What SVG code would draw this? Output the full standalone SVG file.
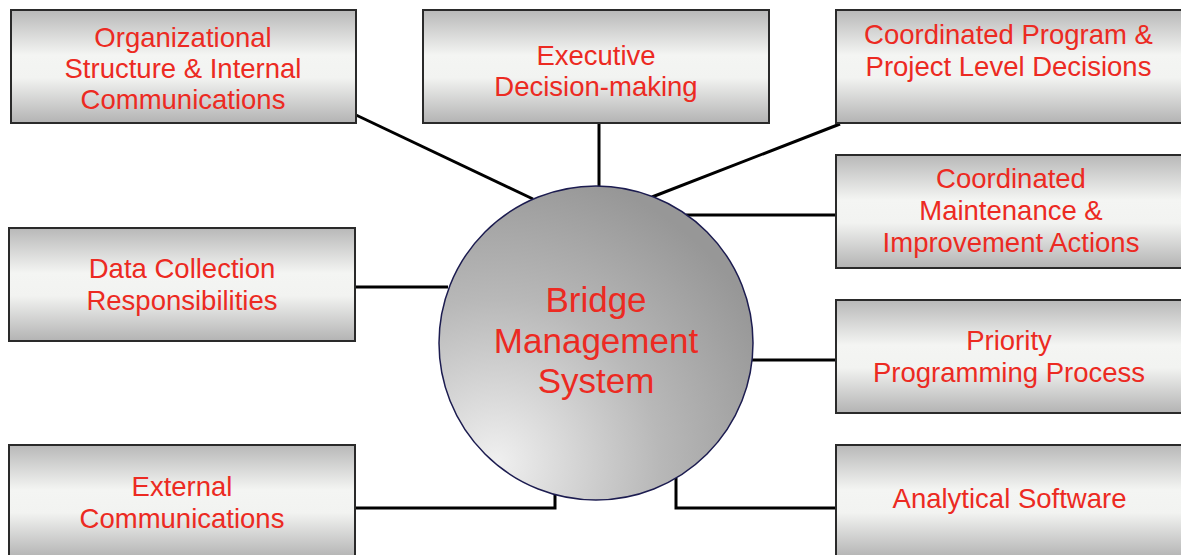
<svg xmlns="http://www.w3.org/2000/svg" width="1181" height="555" viewBox="0 0 1181 555">
<defs>
<linearGradient id="boxg" x1="0" y1="0" x2="0" y2="1">
<stop offset="0" stop-color="#b8b8b8"/>
<stop offset="0.4" stop-color="#f4f5f3"/>
<stop offset="0.6" stop-color="#f2f3f1"/>
<stop offset="1" stop-color="#b3b3b3"/>
</linearGradient>
<radialGradient id="circg" cx="0.18" cy="0.88" r="0.95" fx="0.18" fy="0.88">
<stop offset="0" stop-color="#f0f0f0"/>
<stop offset="0.55" stop-color="#b8b8b8"/>
<stop offset="1" stop-color="#979797"/>
</radialGradient>
<style>
.box{fill:url(#boxg);stroke:#2a2a2a;stroke-width:2}
.t{font-family:"Liberation Sans",Arial,sans-serif;font-size:27.5px;fill:#ec2a22;text-anchor:middle}
.ct{font-family:"Liberation Sans",Arial,sans-serif;font-size:35px;fill:#ec2a22;text-anchor:middle}
.c{fill:none;stroke:#000;stroke-width:3}
</style>
</defs>
<rect width="1181" height="555" fill="#fff"/>
<g id="connectors">
<line class="c" x1="356" y1="115" x2="533" y2="199"/>
<line class="c" x1="599" y1="124" x2="599" y2="188"/>
<line class="c" x1="840" y1="124" x2="652" y2="197"/>
<line class="c" x1="686" y1="215" x2="836" y2="215"/>
<line class="c" x1="355" y1="287" x2="448" y2="287"/>
<line class="c" x1="752" y1="360" x2="836" y2="360"/>
<polyline class="c" points="355,508 555,508 555,490"/>
<polyline class="c" points="836,508 676,508 676,478"/>
</g>
<g id="n-org">
<rect class="box" x="11" y="10" width="345" height="113"/>
<text class="t" x="183" y="47">Organizational</text>
<text class="t" x="183" y="78">Structure &amp; Internal</text>
<text class="t" x="183" y="109">Communications</text>
</g>
<g id="n-exec">
<rect class="box" x="423" y="10" width="346" height="113"/>
<text class="t" x="596" y="64.5">Executive</text>
<text class="t" x="596" y="96">Decision-making</text>
</g>
<g id="n-coordprog">
<rect class="box" x="836" y="10" width="346" height="113"/>
<text class="t" x="1008.5" y="44">Coordinated Program &amp;</text>
<text class="t" x="1008.5" y="76">Project Level Decisions</text>
</g>
<g id="n-coordmaint">
<rect class="box" x="836" y="155" width="346" height="113"/>
<text class="t" x="1011" y="188">Coordinated</text>
<text class="t" x="1011" y="220">Maintenance &amp;</text>
<text class="t" x="1011" y="251.5">Improvement Actions</text>
</g>
<g id="n-data">
<rect class="box" x="9" y="228" width="346" height="113"/>
<text class="t" x="182" y="278">Data Collection</text>
<text class="t" x="182" y="310">Responsibilities</text>
</g>
<g id="n-priority">
<rect class="box" x="836" y="300" width="346" height="113"/>
<text class="t" x="1009" y="350">Priority</text>
<text class="t" x="1009" y="382">Programming Process</text>
</g>
<g id="n-external">
<rect class="box" x="9" y="445" width="346" height="113"/>
<text class="t" x="182" y="496">External</text>
<text class="t" x="182" y="528">Communications</text>
</g>
<g id="n-analytical">
<rect class="box" x="836" y="445" width="346" height="113"/>
<text class="t" x="1009.5" y="508">Analytical Software</text>
</g>
<g id="n-bms">
<circle cx="596" cy="343" r="157" fill="url(#circg)" stroke="#1c1c50" stroke-width="1.5"/>
<text class="ct" x="596" y="312">Bridge</text>
<text class="ct" x="596" y="353">Management</text>
<text class="ct" x="596" y="393">System</text>
</g>
</svg>
